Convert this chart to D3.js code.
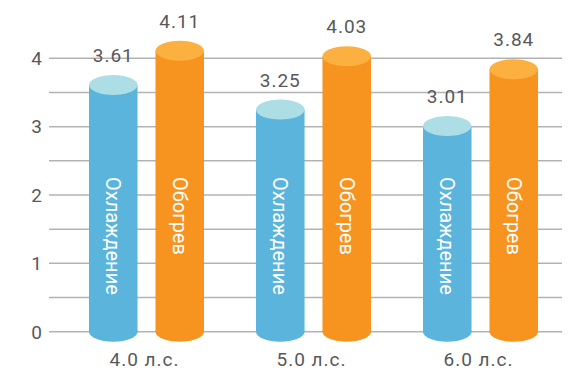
<!DOCTYPE html>
<html>
<head>
<meta charset="utf-8">
<script src="https://cdn.jsdelivr.net/npm/d3@7"></script>
<style>
  html, body { margin: 0; padding: 0; background: #fff; }
  text { font-family: Roboto, "DejaVu Sans", sans-serif; }
</style>
</head>
<body>
<div id="chart"></div>
<script>
var categories = ["4.0 л.с.", "5.0 л.с.", "6.0 л.с."];
var seriesNames = ["Охлаждение", "Обогрев"];
var cooling = [3.61, 3.25, 3.01];
var heating = [4.11, 4.03, 3.84];
var yTicks = [0, 1, 2, 3, 4];

var w = 574;
var h = 372;

var svg = d3.select("#chart")
    .append("svg")
    .attr("width", w)
    .attr("height", h);

var y = d3.scaleLinear().domain([0, 4]).range([331.7, 58.3]);
var x = d3.scaleBand().domain(categories).range([63, 564]);
var sub = d3.scaleBand().domain(seriesNames).range([-57.5, 57.5]).paddingInner(0.27);

var bodyColor = ["#5ab4dc", "#f7941f"];
var capColor = ["#addee5", "#fbb040"];
var ry = 10;

// Grid lines
svg.append("g")
    .selectAll("line")
    .data(d3.range(0, 4.01, 0.5))
    .enter()
    .append("line")
    .attr("x1", 49)
    .attr("x2", 562)
    .attr("y1", d => y(d))
    .attr("y2", d => y(d))
    .attr("stroke", "#b3b3b3")
    .attr("stroke-width", 1.5);

// Y tick labels
svg.append("g")
    .selectAll("text")
    .data(yTicks)
    .enter()
    .append("text")
    .attr("x", 42)
    .attr("y", d => y(d))
    .attr("dy", "0.36em")
    .attr("text-anchor", "end")
    .style("font-size", "19px")
    .style("fill", "#58595b")
    .text(d => d);

// Bars (cylinders)
var rows = [];
categories.forEach((c, i) => {
    rows.push({ cat: c, s: 0, v: cooling[i] });
    rows.push({ cat: c, s: 1, v: heating[i] });
});

var bar = svg.append("g")
    .selectAll("g")
    .data(rows)
    .enter()
    .append("g")
    .attr("transform", d => `translate(${x(d.cat) + x.bandwidth() / 2 + sub(seriesNames[d.s])},0)`);

var bw = sub.bandwidth();

bar.append("ellipse")
    .attr("cx", bw / 2)
    .attr("cy", y(0))
    .attr("rx", bw / 2)
    .attr("ry", ry)
    .attr("fill", d => bodyColor[d.s]);

bar.append("rect")
    .attr("x", 0)
    .attr("width", bw)
    .attr("y", d => y(d.v))
    .attr("height", d => y(0) - y(d.v))
    .attr("fill", d => bodyColor[d.s]);

bar.append("ellipse")
    .attr("cx", bw / 2)
    .attr("cy", d => y(d.v))
    .attr("rx", bw / 2)
    .attr("ry", ry)
    .attr("fill", d => capColor[d.s]);

// Value labels
bar.append("text")
    .attr("x", bw / 2)
    .attr("y", d => y(d.v) - 23)
    .attr("text-anchor", "middle")
    .style("font-size", "19px")
    .style("letter-spacing", "1px")
    .style("fill", "#58595b")
    .text(d => d.v.toFixed(2));

// Series names inside bars
bar.append("text")
    .attr("transform", `translate(${bw / 2 - 7},177) rotate(90)`)
    .attr("text-anchor", "start")
    .style("font-size", "20px")
    .style("fill", "#fff")
    .text(d => seriesNames[d.s]);

// Category labels
svg.append("g")
    .selectAll("text")
    .data(categories)
    .enter()
    .append("text")
    .attr("x", d => x(d) + x.bandwidth() / 2 - 2)
    .attr("y", 366)
    .attr("text-anchor", "middle")
    .style("font-size", "19px")
    .style("letter-spacing", "1px")
    .style("fill", "#58595b")
    .text(d => d);
</script>
</body>
</html>
